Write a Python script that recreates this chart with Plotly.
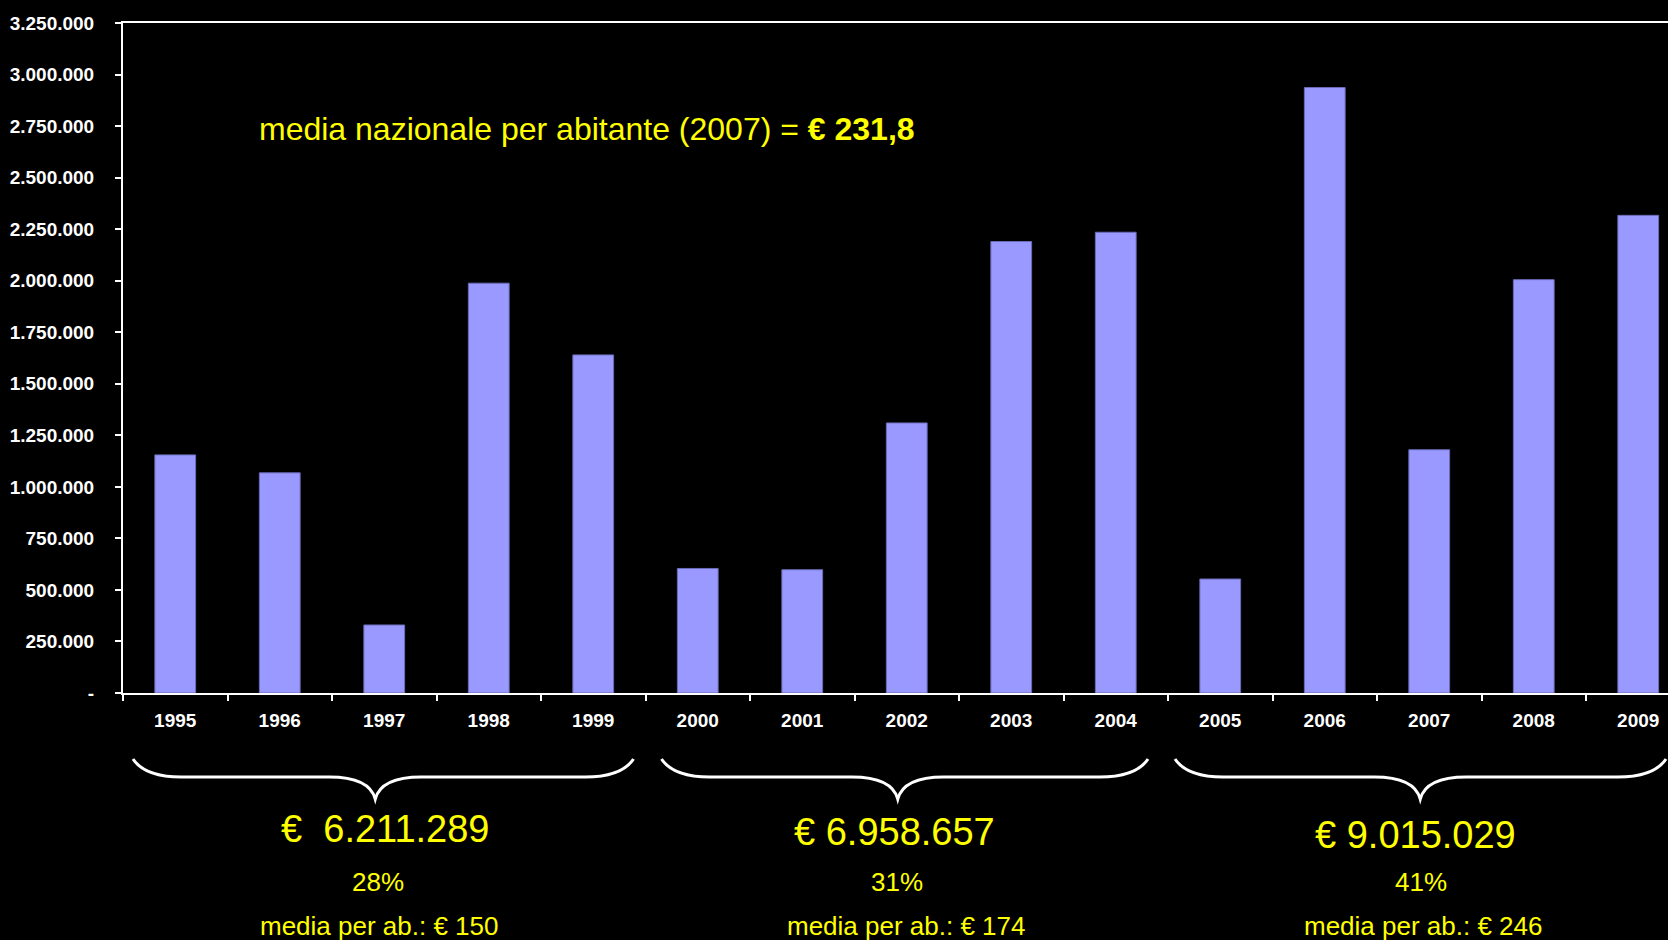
import plotly.graph_objects as go

# ---------------- data ----------------
years = ["1995", "1996", "1997", "1998", "1999", "2000", "2001", "2002",
         "2003", "2004", "2005", "2006", "2007", "2008", "2009"]
values = [1155000, 1068000, 330000, 1988000, 1640000,
          604000, 598000, 1310000, 2190000, 2235000,
          553000, 2937000, 1180000, 2005000, 2317000]

y_tickvals = [0, 250000, 500000, 750000, 1000000, 1250000, 1500000, 1750000,
              2000000, 2250000, 2500000, 2750000, 3000000, 3250000]
y_ticktext = ["-" if v == 0 else f"{v:,}".replace(",", ".") for v in y_tickvals]

group_first = [0, 5, 10]
group_last = [4, 9, 14]
group_totals = ["€\u00a0\u00a06.211.289", "€ 6.958.657", "€ 9.015.029"]
group_pct = ["28%", "31%", "41%"]
group_avg = ["media per ab.: € 150", "media per ab.: € 174", "media per ab.: € 246"]
national_label = "media nazionale per abitante (2007) = "
national_value = "€ 231,8"

# ---------------- layout geometry ----------------
W, H = 1668, 940
ML, MR, MT, MB = 123, 0, 23, 247
PW = W - ML - MR
PH = H - MT - MB
cat_px = 104.5
x_range = [-0.5, -0.5 + PW / cat_px]

FONT = "Liberation Sans, Arial, sans-serif"
YELLOW = "#FFFF00"

# per-group fine placement (pixels)
brace_inset_l = [10, 16, 7]
brace_inset_r = [12, 20, 2]
total_dx = [0.5, -12, -14]
total_dy = [-3, 0, 3]
pct_dx = [-6, -9.5, -8]
avg_dx = [-5, 0, -6]


def px_x(idx):
    return ML + (idx - x_range[0]) * cat_px


def paper_x(px):
    return (px - ML) / PW


def paper_y(py):
    return (H - MB - py) / PH


def P(x, y):
    return f"{paper_x(x):.5f},{paper_y(y):.5f}"


fig = go.Figure()
fig.add_trace(go.Bar(
    x=years, y=values,
    marker=dict(color="#9999FF", line=dict(color="#6B6BB8", width=1)),
    hoverinfo="x+y",
))

shapes = []
annotations = []

annotations.append(dict(
    xref="paper", yref="paper", x=paper_x(257), y=paper_y(129),
    xanchor="left", yanchor="middle", showarrow=False,
    text=national_label + "<b>" + national_value + "</b>",
    font=dict(family=FONT, size=32, color=YELLOW),
))

y_top, y_h, y_pt = 759, 777, 799
for g in range(3):
    xl = px_x(group_first[g] - 0.5) + brace_inset_l[g]
    xr = min(px_x(group_last[g] + 0.5) - brace_inset_r[g], W - 2)
    xc = px_x((group_first[g] + group_last[g]) / 2) - 9
    path = (f"M {P(xl, y_top)} Q {P(xl + 12, y_h)} {P(xl + 48, y_h)} "
            f"L {P(xc - 46, y_h)} Q {P(xc - 6, y_h)} {P(xc, y_pt)} "
            f"Q {P(xc + 6, y_h)} {P(xc + 46, y_h)} "
            f"L {P(xr - 48, y_h)} Q {P(xr - 12, y_h)} {P(xr, y_top)}")
    shapes.append(dict(type="path", xref="paper", yref="paper", path=path,
                       line=dict(color="white", width=3), layer="above"))

    cpx = px_x((group_first[g] + group_last[g]) / 2)
    annotations.append(dict(xref="paper", yref="paper",
                            x=paper_x(cpx + total_dx[g]), y=paper_y(832 + total_dy[g]),
                            text=group_totals[g], showarrow=False,
                            xanchor="center", yanchor="middle",
                            font=dict(family=FONT, size=38, color=YELLOW)))
    annotations.append(dict(xref="paper", yref="paper",
                            x=paper_x(cpx + pct_dx[g]), y=paper_y(882),
                            text=group_pct[g], showarrow=False,
                            xanchor="center", yanchor="middle",
                            font=dict(family=FONT, size=26, color=YELLOW)))
    annotations.append(dict(xref="paper", yref="paper",
                            x=paper_x(cpx + avg_dx[g]), y=paper_y(926),
                            text=group_avg[g], showarrow=False,
                            xanchor="center", yanchor="middle",
                            font=dict(family=FONT, size=26, color=YELLOW)))

fig.update_layout(
    width=W, height=H,
    margin=dict(l=ML, r=MR, t=MT, b=MB, pad=0),
    paper_bgcolor="black", plot_bgcolor="black",
    bargap=0.61,
    showlegend=False,
    shapes=shapes,
    annotations=annotations,
    xaxis=dict(
        type="category", range=x_range,
        showgrid=False, zeroline=False,
        showline=True, linecolor="white", linewidth=2, mirror=True,
        ticks="outside", tickson="boundaries", ticklen=6, tickcolor="white", tickwidth=1.5,
        tickfont=dict(family=FONT, size=19, color="white", weight="bold"),
        ticklabelstandoff=9,
    ),
    yaxis=dict(
        range=[0, 3250000],
        tickvals=y_tickvals, ticktext=y_ticktext,
        showgrid=False, zeroline=False,
        showline=True, linecolor="white", linewidth=2,
        ticks="outside", ticklen=6, tickcolor="white", tickwidth=1.5,
        tickfont=dict(family=FONT, size=19, color="white", weight="bold"),
        ticklabelstandoff=17,
    ),
)

fig.write_html(
    "out.html",
    config={"displayModeBar": False},
    post_script="document.body.style.margin='0';document.body.style.background='black';"
                "document.body.style.overflow='hidden';",
)
